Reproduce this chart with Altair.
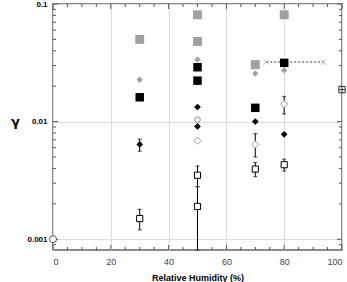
import altair as alt
import pandas as pd

# ---- data ----
gray_sq_rh = [30, 50, 50, 70, 80]
gray_sq_g = [0.050, 0.081, 0.048, 0.0305, 0.081]

gray_dia_rh = [30, 50, 70, 80]
gray_dia_g = [0.0227, 0.0337, 0.0256, 0.0273]

black_sq_rh = [30, 50, 50, 70, 80]
black_sq_g = [0.0161, 0.029, 0.0223, 0.0131, 0.0316]

black_dia_rh = [30, 50, 50, 70, 80]
black_dia_g = [0.0064, 0.0133, 0.0091, 0.0100, 0.0078]
black_dia_err_rh = [30]
black_dia_lo = [0.0056]
black_dia_hi = [0.0071]

open_dia_rh = [50, 70, 80]
open_dia_g = [0.0069, 0.0064, 0.0141]
open_dia_err_rh = [70, 80]
open_dia_lo = [0.0050, 0.0116]
open_dia_hi = [0.0079, 0.0164]

open_sq_rh = [30, 50, 50, 70, 80]
open_sq_g = [0.0015, 0.0035, 0.0019, 0.00395, 0.0043]
open_sq_lo = [0.0012, 0.0028, 0.00081, 0.0034, 0.0038]
open_sq_hi = [0.0018, 0.0042, 0.0028, 0.0045, 0.0048]

open_circ_rh = [0]
open_circ_g = [0.001]
small_circ_rh = [50]
small_circ_g = [0.0104]

x_mark_rh = [73.8, 93.6]
x_mark_g = [0.0321, 0.0321]

boxed_rh = [100]
boxed_g = [0.0187]
boxed_lo = [0.0178]
boxed_hi = [0.0197]

x_major = [0, 20, 40, 60, 80, 100]
x_minor = [5, 10, 15, 25, 30, 35, 45, 50, 55, 65, 70, 75, 85, 90, 95]
y_major = [0.001, 0.01, 0.1]
y_minor = [0.0009, 0.002, 0.003, 0.004, 0.005, 0.006, 0.007, 0.008, 0.009,
           0.02, 0.03, 0.04, 0.05, 0.06, 0.07, 0.08, 0.09]

Y_DOMAIN = [0.00081, 0.1]
W, H = 289, 246
FONT = "Liberation Sans"

xs = alt.Scale(domain=[0, 100], nice=False, zero=False)
ys = alt.Scale(type="log", domain=Y_DOMAIN, nice=False)


def pts(rh, g):
    return pd.DataFrame({"rh": rh, "g": g})


def err(rh, lo, hi):
    return pd.DataFrame({"rh": rh, "lo": lo, "hi": hi})


X = alt.X("rh:Q", scale=xs)
Y = alt.Y("g:Q", scale=ys)

base = alt.Chart(pts([0], [0.001])).mark_point(opacity=0).encode(
    x=alt.X("rh:Q", scale=xs,
            axis=alt.Axis(values=x_major, grid=True, gridColor="#dcdcdc",
                          gridWidth=1, ticks=False, domain=False,
                          labelFontSize=9, labelColor="#444", labelFont=FONT,
                          labelPadding=7, title="Relative Humidity (%)",
                          titleFont=FONT, titleFontSize=9, titleFontWeight="bold",
                          titlePadding=7, titleColor="#000", format="d")),
    y=alt.Y("g:Q", scale=ys,
            axis=alt.Axis(values=[0.001, 0.01, 0.1], grid=True, gridColor="#dcdcdc",
                          gridWidth=1, ticks=False, domain=False,
                          labelFontSize=8, labelFontWeight="bold", labelColor="#000",
                          labelFont=FONT, labelPadding=6,
                          labelExpr="datum.value == 0.1 ? '0.1' : datum.value == 0.01 ? '0.01' : '0.001'",
                          title="γ", titleAngle=0, titleFont="DejaVu Sans",
                          titleFontSize=13, titleFontWeight="bold", titleX=-38,
                          titleY=117, titleAlign="center", titleBaseline="middle",
                          titleColor="#000")),
)

tick_color = "#555"
xt_major = pd.DataFrame({"rh": x_major})
xt_minor = pd.DataFrame({"rh": x_minor})
yt_major = pd.DataFrame({"g": y_major})
yt_minor = pd.DataFrame({"g": y_minor})

ticks = [
    alt.Chart(xt_major).mark_rule(color=tick_color).encode(x=X, y=alt.value(H), y2=alt.value(H - 5)),
    alt.Chart(xt_minor).mark_rule(color=tick_color).encode(x=X, y=alt.value(H), y2=alt.value(H - 3)),
    alt.Chart(xt_major).mark_rule(color=tick_color).encode(x=X, y=alt.value(0), y2=alt.value(5)),
    alt.Chart(xt_minor).mark_rule(color=tick_color).encode(x=X, y=alt.value(0), y2=alt.value(3)),
    alt.Chart(yt_major).mark_rule(color=tick_color).encode(y=Y, x=alt.value(0), x2=alt.value(5)),
    alt.Chart(yt_minor).mark_rule(color=tick_color).encode(y=Y, x=alt.value(0), x2=alt.value(3)),
    alt.Chart(yt_major).mark_rule(color=tick_color).encode(y=Y, x=alt.value(W), x2=alt.value(W - 5)),
    alt.Chart(yt_minor).mark_rule(color=tick_color).encode(y=Y, x=alt.value(W), x2=alt.value(W - 3)),
]


def errbars(df, color="#000"):
    bar = alt.Chart(df).mark_rule(color=color, strokeWidth=1).encode(
        x=X, y=alt.Y("lo:Q", scale=ys), y2="hi:Q")
    cap_lo = alt.Chart(df).mark_tick(orient="horizontal", size=4, thickness=1, color=color).encode(
        x=X, y=alt.Y("lo:Q", scale=ys))
    cap_hi = alt.Chart(df).mark_tick(orient="horizontal", size=4, thickness=1, color=color).encode(
        x=X, y=alt.Y("hi:Q", scale=ys))
    return [bar, cap_lo, cap_hi]


GRAY = "#a0a0a0"

layers = [base] + ticks

layers.append(alt.Chart(pts(x_mark_rh, x_mark_g)).mark_line(
    color="#333", strokeDash=[2, 2], strokeWidth=1).encode(x=X, y=Y))
layers.append(alt.Chart(pts(x_mark_rh, x_mark_g)).mark_point(
    shape="M-1,-1L1,1M-1,1L1,-1", size=30, color="#999", strokeWidth=1, filled=False).encode(x=X, y=Y))

layers += errbars(err(black_dia_err_rh, black_dia_lo, black_dia_hi))
layers += errbars(err(open_dia_err_rh, open_dia_lo, open_dia_hi))
layers += errbars(err(open_sq_rh, open_sq_lo, open_sq_hi))
layers += errbars(err(boxed_rh, boxed_lo, boxed_hi), color="#444")

layers.append(alt.Chart(pts(gray_sq_rh, gray_sq_g)).mark_point(
    shape="square", size=80, filled=True, color=GRAY, opacity=1).encode(x=X, y=Y))
layers.append(alt.Chart(pts(gray_dia_rh, gray_dia_g)).mark_point(
    shape="diamond", size=40, filled=True, color=GRAY, opacity=1).encode(x=X, y=Y))
layers.append(alt.Chart(pts(black_sq_rh, black_sq_g)).mark_point(
    shape="square", size=72, filled=True, color="#000", opacity=1).encode(x=X, y=Y))
layers.append(alt.Chart(pts(black_dia_rh, black_dia_g)).mark_point(
    shape="diamond", size=45, filled=True, color="#000", opacity=1).encode(x=X, y=Y))
layers.append(alt.Chart(pts(open_dia_rh, open_dia_g)).mark_point(
    shape="diamond", size=50, filled=False, fill="white", stroke="#999",
    strokeWidth=1, opacity=1).encode(x=X, y=Y))
layers.append(alt.Chart(pts(open_sq_rh, open_sq_g)).mark_point(
    shape="square", size=38, filled=False, fill="white", stroke="#000",
    strokeWidth=1, opacity=1).encode(x=X, y=Y))
layers.append(alt.Chart(pts(open_circ_rh, open_circ_g)).mark_point(
    shape="circle", size=50, filled=False, fill="white", stroke="#555",
    strokeWidth=1, opacity=1).encode(x=X, y=Y))
layers.append(alt.Chart(pts(small_circ_rh, small_circ_g)).mark_point(
    shape="circle", size=30, filled=False, fill="white", stroke="#888",
    strokeWidth=1, opacity=1).encode(x=X, y=Y))
layers.append(alt.Chart(pts(boxed_rh, boxed_g)).mark_point(
    shape="M-1,-1H1V1H-1Z M-1,0H1 M0,-1V1", size=40, filled=False, fill="white",
    stroke="#333", strokeWidth=1, opacity=1).encode(x=X, y=Y))

chart = alt.layer(*layers).properties(
    width=W, height=H,
    autosize=alt.AutoSizeParams(type="none"),
    padding={"left": 53, "top": 4, "right": 5, "bottom": 32},
    background="white",
).configure_view(stroke="#666", strokeWidth=1.5)

chart.save("out.html", embed_options={"renderer": "svg", "actions": False})
